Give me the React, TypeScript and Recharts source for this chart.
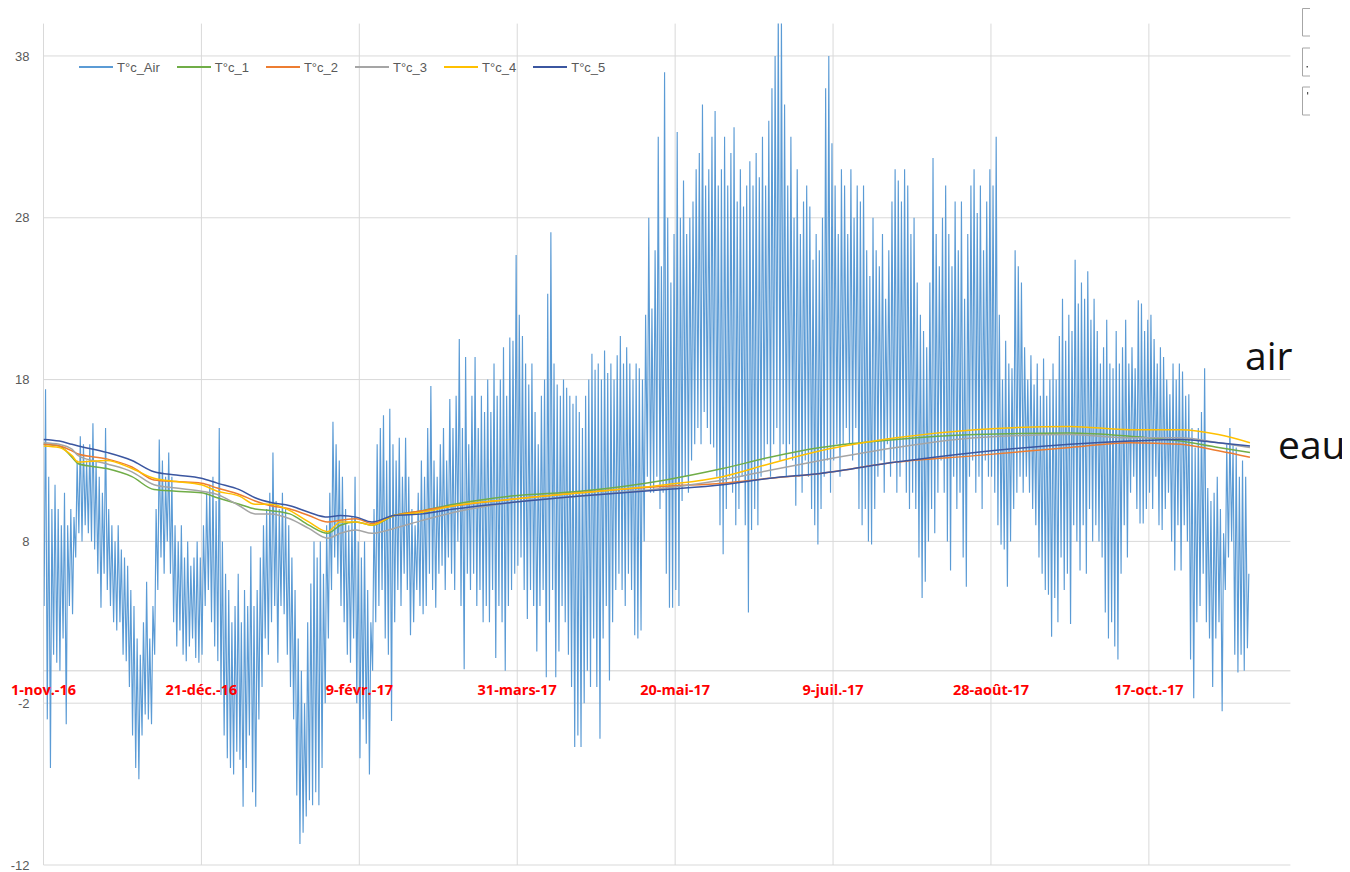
import React from 'react';
import { LineChart, Line, XAxis, YAxis, ReferenceLine, ReferenceDot } from 'recharts';

// x = days since 1 Nov 2016
const dateTicks = [0, 50, 100, 150, 200, 250, 300, 350];
const dateLabels = ['1-nov.-16', '21-déc.-16', '9-févr.-17', '31-mars-17', '20-mai-17', '9-juil.-17', '28-août-17', '17-oct.-17'];
const yTicks = [-12, -2, 8, 18, 28, 38];

// Daily maximum air temperature (day 0 .. 381)
const airHi = [
  17.4, 12, 10, 11.5, 10, 9, 11, 9, 10, 9.5,
  13, 14.5, 14, 13, 14, 15.3, 13, 12, 11, 15,
  10, 9, 8, 9, 7.5, 7, 6.5, 5, 4, 2,
  1, 3, 5.5, 2, 4, 10, 14.3, 13, 12, 13.5,
  12, 9, 8, 9, 7, 8, 6.5, 7, 8, 7,
  9, 11, 11.5, 12, 10.5, 15, 8, 6, 5, 3,
  4, 6, 3, 5, 4, 7.7, 4, 5, 7, 9,
  10, 11, 13.5, 10.5, 10, 11, 10, 9, 7, 5,
  2, 0, -2, 3, 5.4, 8, 7, 8, 6, 9,
  11, 15.4, 14, 13, 12, 10, 9, 9.5, 12, 8,
  7, 8, 5, 3, 10, 14, 15, 15.8, 13, 16.2,
  14, 13, 14.4, 12, 14.4, 12, 10, 9, 11, 13,
  12, 15, 17.6, 13, 12, 14, 15, 13, 16.8, 15,
  17, 20.5, 15, 19.4, 14, 17, 19.4, 15, 17, 16,
  18, 16, 19, 17, 18, 20, 17, 20.6, 20.4, 25.7,
  22, 20.7, 19, 17.7, 19, 16, 14, 17, 18, 23.3,
  27.1, 19, 17.7, 17, 18, 17.5, 17, 16.5, 17, 16,
  15, 17, 18, 19.6, 18.6, 19, 18, 19.8, 18.4, 19,
  18, 19.5, 20.7, 19, 20, 19, 18, 19, 18.7, 18,
  22, 28, 22.4, 26, 33, 25, 37, 28, 24, 27,
  33.3, 28, 30.3, 27, 28, 29, 31, 32, 35, 30,
  31, 33, 34.6, 30, 31, 33, 30, 32, 33.6, 29,
  31, 28.7, 30, 31.5, 30, 32, 30.5, 33, 30, 34,
  36, 38, 41, 40.5, 35, 30, 33, 28, 31, 27,
  29, 30, 28.7, 25.4, 27, 26, 28, 36, 38, 32.6,
  30, 27, 31, 30, 27, 31, 28, 30, 29, 30,
  26, 24.4, 28, 26, 25, 27, 23, 26, 29, 31,
  30.3, 29, 31, 30, 27, 28, 24, 22, 21, 20,
  24, 31.7, 27, 25, 28, 30, 27, 25, 29, 26,
  29, 23, 27, 30, 31, 28.3, 30, 26, 29, 31,
  30, 33, 22, 18, 20.4, 19, 18.7, 26, 25, 24,
  20, 18, 19.5, 17.7, 19, 17, 19.3, 17, 18, 19,
  18, 20.7, 23, 20.4, 22, 21, 25.4, 22.7, 24, 23,
  24.7, 21.7, 23, 21, 19, 20, 21.7, 19, 18.7, 21,
  19, 20, 21.7, 19, 20, 18.7, 22.9, 22.7, 21, 21.7,
  22, 20.5, 19, 20, 19.4, 18, 17.1, 19, 18, 19,
  18.5, 17, 17.1, 15, 13.8, 15, 16, 18.7, 11.3, 10.5,
  11, 12, 10, 8.5, 14, 15, 14, 13.8, 12, 13,
  12, 6,
];

// Daily minimum air temperature (day 0 .. 381)
const airLo = [
  4, -3, -6, 1, 0.5, 0, 2, -3.3, 4, 3.5,
  7, 8.5, 8, 9, 8.5, 8, 7.5, 6, 3.9, 6,
  5, 4, 3, 2.5, 3, 1, 0.6, -1, -4, -6,
  -6.7, -4, -2.7, -3, -3.3, 1, 5, 7, 6, 8,
  6, 3, 1.5, 2.5, 1, 0.6, 1.5, 2, 0.8, 0.5,
  1, 4, 5, 3, 1.5, 0.6, -1.5, -4, -5.4, -6,
  -6.4, -5, -5.5, -8.4, -6, -4, -7.5, -8.4, -3, -1,
  2, 1, 3, 4, 0.5, 4, 3.5, 1, -1, -3,
  -7.7, -10.7, -10, -9, -8, -8.3, -7.5, -8.3, -6, -2,
  2, 5, 7, 6, 4, 3, 1, 0.5, 2, -2,
  -5.4, -3, -4.5, -6.4, 0, 3, 4, 5, 2, 1,
  -3.1, 3, 5, 4, 6, 5, 2.2, 3, 5, 4,
  3.5, 4, 6, 5, 3.9, 6, 6.5, 5, 7, 6,
  5, 8, 4, 0.1, 6, 5, 6, 4, 5, 3,
  4, 3, 5, 0.8, 4, 3, 0, 4, 5, 6,
  6.5, 7, 5, 3.2, 5, 4, 1.2, 4, 5, -0.4,
  3, 5, -0.4, 1.2, 4, 3, 1, -1, -4.7, -4,
  -4.7, -2, 0, -1, 2, -1, -4.2, 2, 4, -0.6,
  3, 5, 6, 5, 4, 6, 5, 2.2, 2, 2.5,
  8, 12, 11, 11, 12, 10, 11, 6, 3.9, 3.9,
  5, 4, 10.5, 12, 11, 13, 14, 15, 14, 16,
  15, 14, 13.8, 12, 9, 7.2, 10, 12, 11, 9,
  10, 12, 9, 3.6, 8.7, 10, 9, 12, 13, 14,
  12, 14, 15, 13, 14, 12, 14, 13, 10.2, 12,
  11, 13, 12, 10, 9, 7.8, 10, 12, 13, 11,
  13, 14, 12, 14, 15, 14, 13, 15, 10, 9,
  10, 8, 7.8, 10, 12, 13, 11, 14, 12, 13,
  11, 12, 13, 11, 10, 11, 10, 7, 4.5, 5.5,
  8, 10, 8.5, 11, 13, 11, 8, 6.2, 12, 10,
  11, 7, 5.2, 12, 13, 11, 12, 10, 13, 12,
  12, 11, 9, 7.8, 7.5, 5.2, 8, 10, 11, 12,
  11, 12, 11, 10, 9, 7, 6, 5, 4.7, 2.1,
  4.5, 3, 7, 5, 6, 2.9, 9, 8, 6.2, 9,
  6, 10, 8, 9, 8, 7, 3.6, 2, 3, 1.5,
  0.7, 6, 9, 7, 11, 12, 10, 9.1, 9.1, 10,
  11, 10, 12, 9, 8.7, 10, 11, 8, 6.2, 9,
  6.2, 9, 8, 0.7, -1.7, 3, 4, 6, 3, 2,
  -1, 2, 3, -2.5, 5, 7, 8, 1, -0.1, 1,
  0, 1.4,
];

// Water temperature probes
const waterDays = [0, 5, 9, 11, 20, 28, 35, 42, 50, 55, 62, 67, 72, 78, 84, 90, 94, 99, 104, 111, 120, 130, 148, 170, 197, 215, 230, 246, 270, 295, 325, 344, 360, 372, 382];
const t1 = [14.0, 13.9, 13.2, 12.8, 12.5, 12.0, 11.2, 11.1, 11.0, 10.7, 10.3, 10.0, 9.9, 9.7, 9.0, 8.5, 9.0, 9.2, 9.0, 9.6, 9.9, 10.3, 10.8, 11.1, 11.8, 12.5, 13.2, 13.8, 14.3, 14.6, 14.7, 14.5, 14.2, 13.8, 13.5];
const t2 = [14.0, 13.9, 13.6, 13.4, 13.1, 12.6, 11.8, 11.7, 11.6, 11.3, 10.9, 10.5, 10.2, 10.0, 9.6, 9.2, 9.3, 9.4, 9.1, 9.6, 9.9, 10.2, 10.6, 11.0, 11.4, 11.6, 11.9, 12.2, 12.9, 13.3, 13.8, 14.1, 14.0, 13.6, 13.2];
const t3 = [14.1, 14.0, 13.7, 13.3, 12.8, 12.3, 11.5, 11.3, 11.1, 10.9, 10.2, 9.7, 9.7, 9.4, 8.8, 8.2, 8.5, 8.7, 8.5, 8.8, 9.3, 9.8, 10.4, 10.8, 11.3, 11.8, 12.4, 13.0, 13.8, 14.4, 14.6, 14.4, 14.4, 14.1, 13.8];
const t4 = [13.9, 13.8, 13.3, 12.9, 13.0, 12.5, 11.9, 11.7, 11.5, 11.1, 10.8, 10.3, 10.3, 9.9, 9.2, 8.6, 9.2, 9.2, 9.0, 9.6, 9.8, 10.2, 10.6, 11.0, 11.5, 12.0, 12.8, 13.6, 14.4, 14.9, 15.1, 14.9, 14.9, 14.6, 14.1];
const t5 = [14.3, 14.2, 14.0, 13.9, 13.5, 13.0, 12.3, 12.1, 11.9, 11.6, 11.2, 10.7, 10.4, 10.2, 9.8, 9.5, 9.6, 9.5, 9.2, 9.6, 9.7, 10.0, 10.4, 10.8, 11.2, 11.5, 11.9, 12.2, 12.9, 13.5, 14.0, 14.2, 14.3, 14.1, 13.9];

const seriesNames = ['T°c_Air', 'T°c_1', 'T°c_2', 'T°c_3', 'T°c_4', 'T°c_5'];
const seriesColors = ['#5b9bd5', '#70ad47', '#ed7d31', '#a5a5a5', '#ffc000', '#3b56a0'];
const waterValues = [t1, t2, t3, t4, t5];

const airData = airHi.flatMap((hi, i) => [
  { d: i + 0.2, v: airLo[i] },
  { d: i + 0.65, v: hi },
]);
const waterData = waterValues.map((vals) => waterDays.map((d, i) => ({ d, v: vals[i] })));

const W = 1342;
const H = 864;
const GRID = '#d9d9d9';

export default function App() {
  return (
    <div style={{ position: 'relative', width: W, height: H, background: '#fff' }}>
      <LineChart width={W} height={H} margin={{ top: 15.6, right: 59, left: 5, bottom: 6 }}>
        <XAxis
          type="number"
          dataKey="d"
          domain={[0, 395]}
          ticks={dateTicks}
          interval={0}
          tick={false}
          tickLine={false}
          axisLine={false}
          height={1}
          allowDataOverflow
        />
        <YAxis
          type="number"
          domain={[-12, 40]}
          ticks={yTicks}
          interval={0}
          allowDataOverflow
          axisLine={false}
          tickLine={false}
          tickSize={0}
          tickMargin={14}
          width={30.5}
          tick={{ fill: '#595959', fontSize: 13, fontFamily: 'Liberation Sans, Arial, sans-serif' }}
        />
        {yTicks.map((t) => (
          <ReferenceLine key={'h' + t} y={t} stroke={GRID} strokeWidth={1} />
        ))}
        {dateTicks.map((t) => (
          <ReferenceLine key={'v' + t} x={t} stroke={GRID} strokeWidth={1} />
        ))}
        <ReferenceLine y={0} stroke="#d0d0d0" strokeWidth={1} />
        <Line
          data={airData}
          dataKey="v"
          type="linear"
          dot={false}
          activeDot={false}
          stroke={seriesColors[0]}
          strokeWidth={1.15}
          isAnimationActive={false}
        />
        {waterData.map((data, i) => (
          <Line
            key={seriesNames[i + 1]}
            data={data}
            dataKey="v"
            type="monotone"
            dot={false}
            activeDot={false}
            stroke={seriesColors[i + 1]}
            strokeWidth={1.5}
            isAnimationActive={false}
          />
        ))}
        {dateTicks.map((t, i) => (
          <ReferenceDot
            key={t}
            x={t}
            y={0}
            r={0}
            fill="none"
            stroke="none"
            label={{
              value: dateLabels[i],
              position: 'bottom',
              offset: 14,
              fill: '#ff0000',
              fontSize: 14.5,
              fontWeight: 700,
              fontFamily: 'Open Sans, sans-serif',
            }}
          />
        ))}
      </LineChart>

      <div
        style={{
          position: 'absolute',
          top: 51,
          left: 71,
          height: 16,
          display: 'flex',
          alignItems: 'center',
          fontFamily: 'Liberation Sans, Arial, sans-serif',
          fontSize: 13,
          color: '#595959',
          whiteSpace: 'nowrap',
        }}
      >
        {seriesNames.map((n, i) => (
          <div key={n} style={{ display: 'flex', alignItems: 'center', marginRight: 17 }}>
            <div style={{ width: 34, height: 1.5, background: seriesColors[i], marginRight: 4 }} />
            <span>{n}</span>
          </div>
        ))}
      </div>

      <svg
        width={W}
        height={H}
        style={{ position: 'absolute', left: 0, top: 0, overflow: 'visible', pointerEvents: 'none' }}
      >
        <rect x={1282.4} y={14} width={6} height={846} fill="#ffffff" />
        <text x={1237} y={362} fontFamily="Open Sans, sans-serif" fontSize={39} fill="#111">air</text>
        <text x={1270} y={451} fontFamily="Open Sans, sans-serif" fontSize={39} fill="#111">eau</text>
        <path d="M1302 0.5 H1294.5 V28 H1302" fill="none" stroke="#a6a6a6" strokeWidth={1} />
        <path d="M1302 40 H1294.5 V68 H1302" fill="none" stroke="#a6a6a6" strokeWidth={1} />
        <path d="M1302 79 H1294.5 V107 H1302" fill="none" stroke="#a6a6a6" strokeWidth={1} />
        <rect x={1298.5} y={58} width={1.5} height={1.5} fill="#555" />
        <rect x={1299} y={84} width={1.2} height={2.5} fill="#555" />
        <line x1={660} x2={667} y1={-3} y2={-3} stroke="#b0b0b0" strokeWidth={1} />
      </svg>
    </div>
  );
}
